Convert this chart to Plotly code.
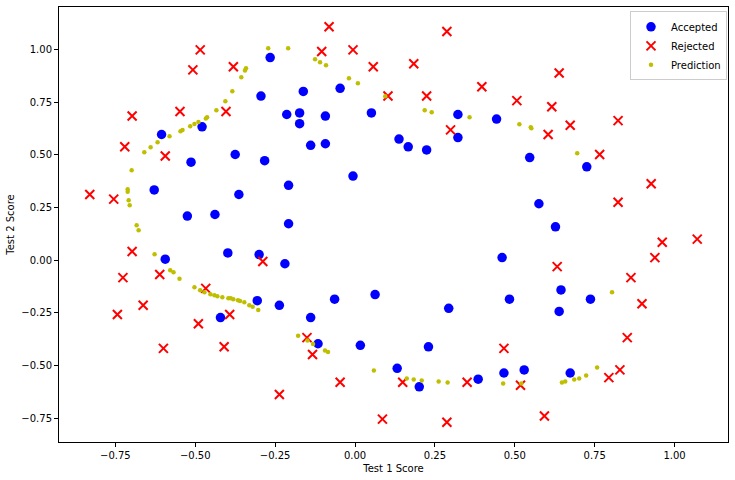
import plotly.graph_objects as go

# Accepted (y=1)
acc_x = [0.051267, -0.092742, -0.21371, -0.375, -0.51325, -0.52477, -0.39804, -0.30588, 0.016705, 0.13191,
         0.38537, 0.52938, 0.63882, 0.73675, 0.54666, 0.322, 0.16647, -0.046659, -0.17339, -0.47869,
         -0.60541, -0.62846, -0.59389, -0.42108, -0.11578, 0.20104, 0.46601, 0.67339, -0.13882, -0.29435,
         -0.26555, -0.16187, -0.17339, -0.28283, -0.36348, -0.30012, -0.23675, -0.06394, 0.062788, 0.22984,
         0.2932, 0.48329, 0.64459, 0.46025, 0.6273, 0.57546, 0.72523, 0.22408, 0.44297, 0.322,
         0.13767, -0.0063364, -0.092742, -0.20795, -0.20795, -0.43836, -0.21947, -0.13882]
acc_y = [0.69956, 0.68494, 0.69225, 0.50219, 0.46564, 0.2098, 0.034357, -0.19225, -0.40424, -0.51389,
         -0.56506, -0.5212, -0.24342, -0.18494, 0.48757, 0.5826, 0.53874, 0.81652, 0.69956, 0.63377,
         0.59722, 0.33406, 0.005117, -0.27266, -0.39693, -0.60161, -0.53582, -0.53582, 0.54605, 0.77997,
         0.96272, 0.8019, 0.64839, 0.47295, 0.31213, 0.027047, -0.21418, -0.18494, -0.16301, -0.41155,
         -0.2288, -0.18494, -0.14108, 0.012427, 0.15863, 0.26827, 0.44371, 0.52412, 0.67032, 0.69225,
         0.57529, 0.39985, 0.55336, 0.35599, 0.17325, 0.21711, -0.016813, -0.27266]

# Rejected (y=0)
rej_x = [0.18376, 0.22408, 0.29896, 0.50634, 0.61578, 0.60426, 0.76555, 0.92684, 0.82316, 0.96141,
         0.93836, 0.86348, 0.89804, 0.85196, 0.82892, 0.79435, 0.59274, 0.51786, 0.46601, 0.35081,
         0.28744, 0.085829, 0.14919, -0.13306, -0.40956, -0.39228, -0.74366, -0.69758, -0.75518, -0.69758,
         -0.4038, -0.38076, -0.50749, -0.54781, 0.10311, 0.057028, -0.10426, -0.081221, 0.28744, 0.39689,
         0.63882, 0.82316, 0.67339, 1.0709, -0.046659, -0.23675, -0.15035, -0.49021, -0.46717, -0.28859,
         -0.61118, -0.66302, -0.59965, -0.72638, -0.83007, -0.72062, -0.59389, -0.48445, -0.0063364, 0.63265]
rej_y = [0.93348, 0.77997, 0.61915, 0.75804, 0.7288, 0.59722, 0.50219, 0.3633, 0.27558, 0.085526,
         0.012427, -0.082602, -0.20687, -0.36769, -0.5212, -0.55775, -0.7405, -0.5943, -0.41886, -0.57968,
         -0.76974, -0.75512, -0.57968, -0.4481, -0.41155, -0.25804, -0.25804, 0.041667, 0.2902, 0.68494,
         0.70687, 0.91886, 0.90424, 0.70687, 0.77997, 0.91886, 0.99196, 1.1089, 1.087, 0.82383,
         0.88962, 0.66301, 0.64108, 0.10015, -0.57968, -0.63816, -0.36769, -0.3019, -0.13377, -0.0060673,
         -0.067982, -0.21418, -0.41886, -0.082602, 0.31213, 0.53874, 0.49488, 0.99927, 0.99927, -0.030612]

# Prediction (decision boundary samples)
pred_x = [-0.2717, -0.2093, -0.3412, -0.3444, -0.3559, -0.3840, -0.4058, -0.4339, -0.4629, -0.4669,
          -0.4900, -0.5025, -0.5159, -0.5399, -0.5462, -0.5805, -0.6179, -0.6397, -0.6594, -0.6990,
          -0.7115, -0.7115, -0.7084, -0.7052, -0.6834, -0.6772, -0.6273, -0.5783, -0.5680, -0.5493,
          -0.5025, -0.4847, -0.4713, -0.4526, -0.4401, -0.4308, -0.4152, -0.3964, -0.3890, -0.3808,
          -0.3662, -0.3599, -0.3465, -0.3309, -0.3203, -0.3029, -0.1781, -0.1488, -0.1313, -0.0939,
          -0.0845, 0.0590, 0.1619, 0.1837, 0.2087, 0.2617, 0.2898, 0.4635, 0.5206, 0.6475,
          0.6578, 0.6859, 0.7015, 0.7233, 0.7576, 0.8044, 0.6953, 0.5499, 0.5518, 0.5143,
          0.3584, 0.2180, 0.2399, 0.0945, 0.0090, -0.0190, -0.0908, -0.1095, -0.1251]
pred_y = [1.0076, 1.0076, 0.9125, 0.9011, 0.8697, 0.8031, 0.7556, 0.7128, 0.6795, 0.6729,
          0.6572, 0.6476, 0.6367, 0.6191, 0.6129, 0.5892, 0.5606, 0.5369, 0.5131, 0.4275,
          0.3371, 0.3257, 0.2848, 0.2611, 0.1660, 0.1422, 0.0281, -0.0480, -0.0575, -0.0880,
          -0.1289, -0.1431, -0.1526, -0.1622, -0.1669, -0.1717, -0.1764, -0.1812, -0.1812, -0.1859,
          -0.1907, -0.1940, -0.2002, -0.2145, -0.2211, -0.2368, -0.3590, -0.3809, -0.3985, -0.4284,
          -0.4365, -0.5235, -0.5616, -0.5663, -0.5711, -0.5758, -0.5806, -0.5854, -0.5854, -0.5806,
          -0.5758, -0.5663, -0.5616, -0.5473, -0.5093, -0.1526, 0.5083, 0.6320, 0.6272, 0.6462,
          0.6795, 0.7128, 0.7033, 0.7794, 0.8412, 0.8650, 0.9268, 0.9410, 0.9553]

tick_vals = [-0.75, -0.5, -0.25, 0.0, 0.25, 0.5, 0.75, 1.0]
tick_text = ["\u22120.75", "\u22120.50", "\u22120.25", "0.00", "0.25", "0.50", "0.75", "1.00"]

fig = go.Figure()
fig.add_trace(go.Scatter(x=acc_x, y=acc_y, mode="markers", name="Accepted",
                         marker=dict(symbol="circle", size=9.5, color="#0000ff")))
fig.add_trace(go.Scatter(x=rej_x, y=rej_y, mode="markers", name="Rejected",
                         marker=dict(symbol="x-thin", size=9, color="#ff0000",
                                     line=dict(width=2, color="#ff0000"))))
fig.add_trace(go.Scatter(x=pred_x, y=pred_y, mode="markers", name="Prediction",
                         marker=dict(symbol="circle", size=4.5, color="#bfbf00")))

font = dict(family="DejaVu Sans", size=10, color="black")
axis_common = dict(showline=True, mirror=True, linecolor="black", linewidth=1,
                   ticks="outside", ticklen=4, tickcolor="black", showgrid=False,
                   zeroline=False, tickfont=font, tickvals=tick_vals, ticktext=tick_text,
                   automargin=False)

fig.update_layout(
    width=735, height=480,
    margin=dict(l=59, r=7, t=7, b=38),
    plot_bgcolor="white", paper_bgcolor="white",
    font=font,
    xaxis=dict(range=[-0.9264, 1.1672], title=dict(text="Test 1 Score", font=font, standoff=4), **axis_common),
    yaxis=dict(range=[-0.8637, 1.2030], title=dict(text="Test 2 Score", font=font, standoff=4), **axis_common),
    legend=dict(x=0.9985, y=0.99, xanchor="right", yanchor="top", bgcolor="white",
                bordercolor="#cccccc", borderwidth=1, font=font, itemsizing="trace",
                tracegroupgap=0, itemwidth=30),
    showlegend=True,
)

fig.write_html("out.html", config={"displayModeBar": False},
               post_script="document.body.style.margin='0px';")
